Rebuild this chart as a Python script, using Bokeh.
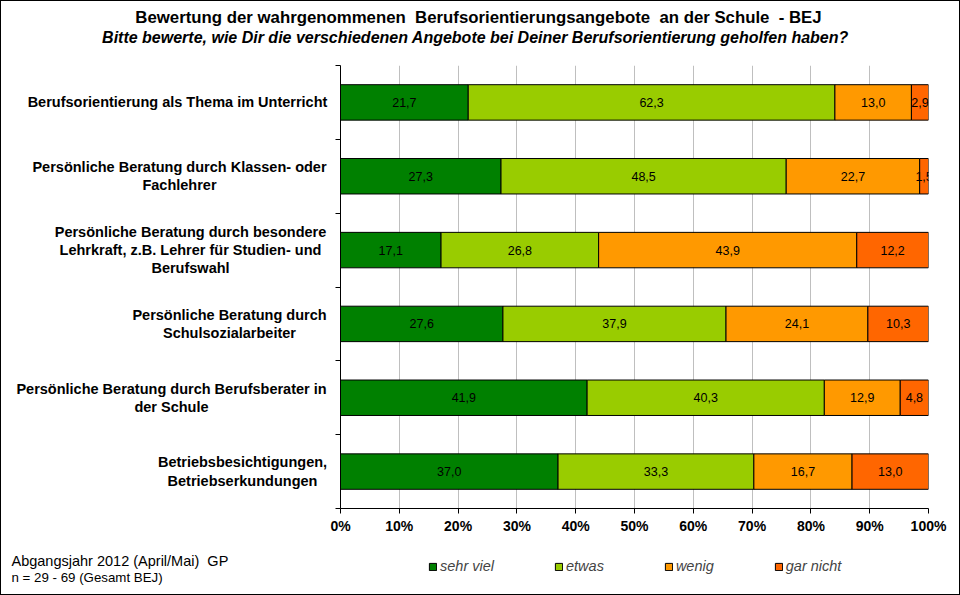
from bokeh.plotting import figure
from bokeh.layouts import column, row
from bokeh.models import (Range1d, FixedTicker, LinearAxis, Label, Legend, LegendItem,
                          ColumnDataSource)
from bokeh.core.properties import value
from bokeh.embed import file_html
from bokeh.resources import INLINE

# ---------------- data ----------------
categories = [
    "Berufsorientierung als Thema im Unterricht",
    "Persönliche Beratung durch Klassen- oder\nFachlehrer",
    "Persönliche Beratung durch besondere\nLehrkraft, z.B. Lehrer für Studien- und\nBerufswahl",
    "Persönliche Beratung durch\nSchulsozialarbeiter",
    "Persönliche Beratung durch Berufsberater in\nder Schule",
    "Betriebsbesichtigungen,\nBetriebserkundungen",
]
series_names = ["sehr viel", "etwas", "wenig", "gar nicht"]
sehr_viel = [21.7, 27.3, 17.1, 27.6, 41.9, 37.0]
etwas = [62.3, 48.5, 26.8, 37.9, 40.3, 33.3]
wenig = [13.0, 22.7, 43.9, 24.1, 12.9, 16.7]
gar_nicht = [2.9, 1.5, 12.2, 10.3, 4.8, 13.0]
colors = ["#008000", "#99CC00", "#FF9900", "#FF6600"]
x_ticks = list(range(0, 101, 10))
x_tick_labels = [f"{t}%" for t in x_ticks]

NB = "\u00a0"
title_text = f"Bewertung der wahrgenommenen {NB}Berufsorientierungsangebote {NB}an der Schule {NB}- BEJ"
subtitle_text = "Bitte bewerte, wie Dir die verschiedenen Angebote bei Deiner Berufsorientierung geholfen haben?"
foot1 = f"Abgangsjahr 2012 (April/Mai) {NB}GP"
foot2 = "n = 29 - 69 (Gesamt BEJ)"

FONT = "Liberation Sans"

# ---------------- geometry ----------------
W = 958
H_TOP, H_MID, H_BOT = 60, 482, 51
LEFT_W = 328
MAIN_W = W - LEFT_W
FT, FB = 4, 35          # frame borders of the middle row
ML, MR = 11, 31         # main figure left/right borders


def blank(width, height, **kw):
    f = figure(width=width, height=height, output_backend="svg", toolbar_location=None,
               title=None, x_axis_location=None, y_axis_location=None,
               outline_line_color=None, background_fill_color="white",
               border_fill_color="white", **kw)
    f.grid.visible = False
    return f


series = [sehr_viel, etwas, wenig, gar_nicht]
keys = ["s0", "s1", "s2", "s3"]
n = len(categories)
ypos = [i + 0.5 for i in range(n)]
totals = [sum(s[i] for s in series) for i in range(n)]
data = {"y": ypos}
for k, s in zip(keys, series):
    data[k] = [s[i] / totals[i] * 100 for i in range(n)]
source = ColumnDataSource(data)

# ---------------- main chart ----------------
p = figure(width=MAIN_W, height=H_MID, output_backend="svg", toolbar_location=None, title=None,
           x_range=Range1d(0, 100), y_range=Range1d(n, 0),
           x_axis_location=None, y_axis_location=None,
           min_border_left=ML, min_border_right=MR, min_border_top=FT, min_border_bottom=FB,
           outline_line_color=None, background_fill_color="white", border_fill_color="white")

renderers = p.hbar_stack(keys, y="y", height=0.48, color=colors, source=source,
                         line_color="black", line_width=1)

p.xgrid.ticker = FixedTicker(ticks=x_ticks)
p.xgrid.grid_line_color = "#bfbfbf"
p.xgrid.grid_line_width = 1
p.ygrid.grid_line_color = None

xa = LinearAxis(ticker=FixedTicker(ticks=x_ticks),
                major_label_overrides={t: l for t, l in zip(x_ticks, x_tick_labels)})
xa.axis_line_color = "black"
xa.major_tick_line_color = "black"
xa.major_tick_out = 5
xa.major_tick_in = 0
xa.minor_tick_line_color = None
xa.major_label_text_font = FONT
xa.major_label_text_font_style = "bold"
xa.major_label_text_font_size = "14px"
xa.major_label_text_color = "black"
xa.major_label_standoff = 4
p.add_layout(xa, "below")

ya = LinearAxis(ticker=FixedTicker(ticks=list(range(n + 1))),
                major_label_overrides={i: "" for i in range(n + 1)})
ya.axis_line_color = "black"
ya.major_tick_line_color = "black"
ya.major_tick_out = 5
ya.major_tick_in = 0
ya.minor_tick_line_color = None
ya.major_label_text_font_size = "0px"
ya.major_label_standoff = 0
p.add_layout(ya, "left")

lx, ly, lt = [], [], []
for i in range(n):
    cum = 0
    for k, s in zip(keys, series):
        w = data[k][i]
        lx.append(cum + w / 2)
        ly.append(ypos[i])
        lt.append(f"{s[i]:.1f}".replace(".", ","))
        cum += w
p.text(x=lx, y=ly, text=lt, text_align="center", text_baseline="middle",
       text_font=value(FONT), text_font_size="12.5px", text_color="black")

# ---------------- category labels (left strip, shares the y range) ----------------
pl = blank(LEFT_W, H_MID, x_range=Range1d(0, LEFT_W), y_range=p.y_range,
           min_border_left=0, min_border_right=0, min_border_top=FT, min_border_bottom=FB)
cat_centers = [176, 178, 189, 228, 170, 241]   # horizontal centre of each wrapped label
for c, yc, cx in zip(categories, ypos, cat_centers):
    pl.add_layout(Label(x=cx, y=yc, x_units="screen", y_units="data", text=c,
                        text_align="center", text_baseline="middle",
                        text_font=FONT, text_font_style="bold", text_font_size="14.5px",
                        text_line_height=1.15, text_color="black"))

# ---------------- title strip ----------------
pt = blank(W, H_TOP, x_range=Range1d(0, 1), y_range=Range1d(0, 1), min_border=0)
pt.frame_align = False
pt.add_layout(Label(x=477, y=H_TOP - 16, x_units="screen", y_units="screen", text=title_text,
                    text_align="center", text_baseline="middle", text_font=FONT,
                    text_font_style="bold", text_font_size="16.8px", text_color="black"))
pt.add_layout(Label(x=474, y=H_TOP - 36, x_units="screen", y_units="screen", text=subtitle_text,
                    text_align="center", text_baseline="middle", text_font=FONT,
                    text_font_style="bold italic", text_font_size="16px", text_color="black"))

# ---------------- bottom strip: legend + notes ----------------
pb = blank(W, H_BOT, x_range=Range1d(0, 1), y_range=Range1d(0, 1), min_border=0)
pb.frame_align = False
swatches = []
for c in colors:
    r = pb.hbar(y=[0], left=[0], right=[0], height=0, fill_color=c, line_color="black")
    r.visible = False
    swatches.append(r)
legend = Legend(items=[LegendItem(label=nm, renderers=[r]) for nm, r in zip(series_names, swatches)],
                orientation="horizontal", location=(427, 20),
                label_text_font=FONT, label_text_font_style="italic", label_text_font_size="14.5px",
                glyph_width=9, glyph_height=9, label_standoff=3, spacing=60,
                border_line_color=None, background_fill_alpha=0, margin=0, padding=2)
pb.add_layout(legend, "center")
pb.add_layout(Label(x=10, y=34, x_units="screen", y_units="screen", text=foot1,
                    text_align="left", text_baseline="middle", text_font=FONT,
                    text_font_size="14.5px", text_color="black"))
pb.add_layout(Label(x=10, y=17, x_units="screen", y_units="screen", text=foot2,
                    text_align="left", text_baseline="middle", text_font=FONT,
                    text_font_size="13.3px", text_color="black"))

layout = column(pt, row(pl, p, spacing=0), pb, spacing=0)
layout.styles = {"border": "1px solid black"}

open("out.html", "w").write(file_html(layout, INLINE))
